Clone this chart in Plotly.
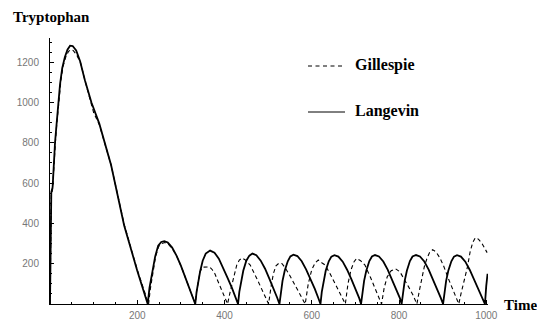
import plotly.graph_objects as go

# Langevin (solid)
lang_t = [0, 1, 2, 3, 6, 7.5, 9, 11.5, 15, 19, 23, 28, 34, 40, 46, 52, 60, 69, 80, 95, 113, 140, 170, 200, 224,
          228, 233, 241, 248, 255, 262, 270, 280, 290, 300, 310, 320, 328, 333,
          336, 340, 344, 350, 357, 367, 377, 387, 397, 407, 417, 425, 431,
          434, 438, 443, 450, 457, 464, 473, 483, 493, 503, 513, 521, 526,
          529, 533, 538, 545, 551, 558, 567, 577, 587, 597, 607, 615, 620,
          623, 627, 632, 639, 645, 652, 661, 671, 681, 691, 701, 709, 713,
          716, 720, 725, 732, 738, 745, 754, 764, 774, 784, 794, 802, 806,
          809, 813, 818, 825, 831, 839, 848, 858, 868, 878, 888, 896, 901,
          904, 908, 913, 920, 926, 933, 942, 952, 962, 972, 982, 991, 997,
          1000, 1003]
lang_y = [0, 300, 500, 555, 580, 650, 720, 800, 890, 1000, 1090, 1170, 1225, 1262, 1282, 1280, 1258, 1205, 1110, 1000, 895, 690, 390, 165, 0,
          80, 140, 235, 290, 308, 312, 305, 280, 240, 190, 135, 75, 30, 0,
          60, 120, 160, 215, 250, 265, 255, 225, 180, 130, 80, 35, 0,
          60, 115, 165, 215, 240, 250, 242, 215, 175, 125, 75, 30, 0,
          60, 115, 165, 212, 236, 245, 238, 212, 172, 125, 75, 30, 0,
          60, 115, 165, 212, 235, 242, 235, 210, 170, 122, 72, 28, 0,
          60, 115, 165, 213, 236, 243, 236, 211, 171, 123, 73, 29, 0,
          60, 115, 165, 213, 236, 243, 236, 211, 171, 123, 73, 29, 0,
          60, 115, 165, 212, 235, 242, 235, 210, 170, 122, 70, 25, 0,
          90, 150]

# Gillespie (dashed)
gill_t = [0, 2, 3, 6, 8, 12, 15, 20, 25, 30, 36, 42, 47, 53, 60, 70, 80, 100, 113, 140, 170, 200, 226,
          230, 235, 242, 249, 256, 263, 271, 281, 291, 301, 311, 321, 328, 333,
          336, 340, 344, 349, 357, 366, 372, 378, 384, 390, 398, 407,
          413, 420, 428, 434, 440, 447, 459, 474, 489, 501,
          507, 512, 518, 525, 532, 539, 550, 562, 573, 585,
          592, 600, 608, 615, 623, 631, 642, 655, 667, 677,
          683, 690, 697, 703, 712, 722, 735, 748, 760,
          766, 773, 782, 792, 802, 812, 822, 832, 841,
          847, 852, 858, 864, 870, 877, 885, 894, 903, 913, 925, 937,
          942, 947, 952, 957, 963, 969, 975, 982, 990, 996, 1002]
gill_y = [0, 480, 540, 570, 660, 790, 880, 1010, 1110, 1180, 1225, 1252, 1262, 1258, 1240, 1198, 1110, 950, 890, 690, 395, 170, 0,
          75, 140, 235, 285, 300, 305, 298, 272, 235, 185, 130, 70, 30, 0,
          60, 120, 160, 183, 184, 184, 170, 150, 118, 86, 40, 0,
          60, 127, 193, 218, 228, 220, 193, 127, 61, 0,
          90, 150, 190, 203, 200, 180, 140, 94, 45, 0,
          100, 170, 205, 218, 205, 193, 150, 95, 45, 0,
          100, 170, 210, 226, 215, 193, 130, 65, 0,
          80, 135, 165, 175, 160, 125, 85, 45, 0,
          70, 127, 185, 226, 255, 270, 258, 228, 185, 127, 60, 0,
          50, 95, 127, 185, 259, 305, 329, 322, 301, 280, 255]

x_tickvals = [200, 400, 600, 800, 1000]
y_tickvals = [200, 400, 600, 800, 1000, 1200]
legend_names = ["Gillespie", "Langevin"]

fig = go.Figure()
fig.add_trace(go.Scatter(x=gill_t, y=gill_y, mode="lines", name=legend_names[0],
                         line=dict(color="black", width=1.1, dash="4px,3px"), showlegend=False))
fig.add_trace(go.Scatter(x=lang_t, y=lang_y, mode="lines", name=legend_names[1],
                         line=dict(color="black", width=1.8), showlegend=False))

L, R, T, B = 50, 49, 38, 16
W, H = 537, 320
pw, ph = W - L - R, H - T - B

def px(x):
    return (x - L) / pw

def py(y):
    return (H - B - y) / ph

tickfont = dict(family="Liberation Sans, Arial, sans-serif", size=10, color="#777777")
fig.update_layout(
    width=W, height=H, margin=dict(l=L, r=R, t=T, b=B, autoexpand=False),
    paper_bgcolor="white", plot_bgcolor="white",
    xaxis=dict(range=[0, 1004], tickmode="array", tickvals=x_tickvals, ticks="inside", ticklen=4,
               tickcolor="black", showgrid=False, zeroline=False, showline=True, linecolor="black",
               linewidth=1, tickfont=tickfont, ticklabelstandoff=2, automargin=False,
               minor=dict(tickmode="linear", tick0=0, dtick=50, ticks="inside", ticklen=2, tickcolor="black", showgrid=False)),
    yaxis=dict(range=[0, 1320], tickmode="array", tickvals=y_tickvals, ticks="inside", ticklen=4,
               tickcolor="black", showgrid=False, zeroline=False, showline=True, linecolor="black",
               linewidth=1, tickfont=tickfont, ticklabelstandoff=8, automargin=False,
               minor=dict(tickmode="linear", tick0=0, dtick=50, ticks="inside", ticklen=2, tickcolor="black", showgrid=False)),
    showlegend=False,
)

serif_bold = "Liberation Serif, Times New Roman, serif"
fig.add_annotation(text="<b>Tryptophan</b>", xref="paper", yref="paper", x=px(11), y=py(17),
                   xanchor="left", yanchor="middle", showarrow=False,
                   font=dict(family=serif_bold, size=15, color="black"))
fig.add_annotation(text="<b>Time</b>", xref="paper", yref="paper", x=px(502), y=py(305),
                   xanchor="left", yanchor="middle", showarrow=False,
                   font=dict(family=serif_bold, size=15, color="black"))

# legend
fig.add_shape(type="line", xref="paper", yref="paper", x0=px(308), x1=px(345), y0=py(66), y1=py(66),
              line=dict(color="black", width=1, dash="4px,3.5px"))
fig.add_shape(type="line", xref="paper", yref="paper", x0=px(308), x1=px(345), y0=py(112), y1=py(112),
              line=dict(color="black", width=1))
fig.add_annotation(text="<b>" + legend_names[0] + "</b>", xref="paper", yref="paper", x=px(353), y=py(65),
                   xanchor="left", yanchor="middle", showarrow=False,
                   font=dict(family=serif_bold, size=16, color="black"))
fig.add_annotation(text="<b>" + legend_names[1] + "</b>", xref="paper", yref="paper", x=px(353), y=py(111),
                   xanchor="left", yanchor="middle", showarrow=False,
                   font=dict(family=serif_bold, size=16, color="black"))

fig.write_html("out.html")
